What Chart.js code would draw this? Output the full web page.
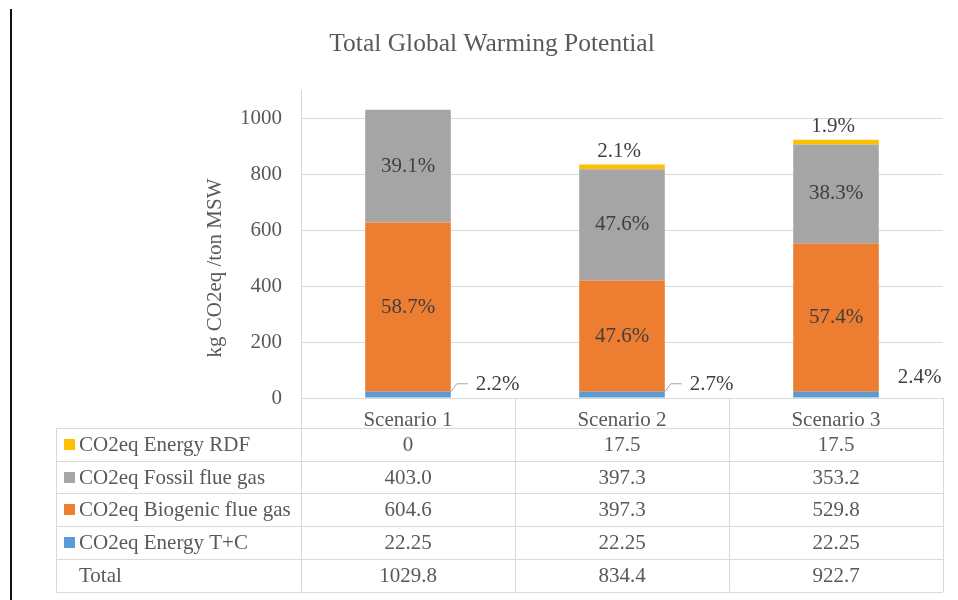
<!DOCTYPE html>
<html>
<head>
<meta charset="utf-8">
<script src="https://cdn.jsdelivr.net/npm/chart.js@4/dist/chart.umd.min.js"></script>
<style>
  html, body { margin: 0; padding: 0; background: #fff; }
  #wrap { position: relative; width: 958px; height: 600px; }
  #rule { position: absolute; left: 10px; top: 9px; width: 2px; height: 591px; background: #111; }
  canvas { position: absolute; left: 0; top: 0; }
</style>
</head>
<body>
<div id="wrap">
  <div id="rule"></div>
  <canvas id="gwp" width="958" height="600"></canvas>
</div>
<script>
// Scenarios and emissions (kg CO2eq per ton MSW)
const scenarios = ['Scenario 1', 'Scenario 2', 'Scenario 3'];
const energyTC = [22.25, 22.25, 22.25];
const biogenicFlueGas = [604.6, 397.3, 529.8];
const fossilFlueGas = [403.0, 397.3, 353.2];
const energyRDF = [0, 17.5, 17.5];
const totals = [1029.8, 834.4, 922.7];
const yTicks = [0, 200, 400, 600, 800, 1000];

const seriesNames = ['CO2eq Energy T+C', 'CO2eq Biogenic flue gas', 'CO2eq Fossil flue gas', 'CO2eq Energy RDF'];
const seriesColors = ['#5B9BD5', '#ED7D31', '#A5A5A5', '#FFC000'];
const tableDecimals = [2, 1, 1, 1];

const FONT = '"Liberation Serif", "Times New Roman", serif';
const TEXT = '#595959';
const LABEL = '#404040';
const LINE = '#D9D9D9';

const seriesValues = [energyTC, biogenicFlueGas, fossilFlueGas, energyRDF];

function fmt(v, dec) {
  return v === 0 ? '0' : v.toFixed(dec);
}

// Percentage labels on each stacked segment
const segmentLabels = {
  id: 'segmentLabels',
  afterDatasetsDraw(chart) {
    const ctx = chart.ctx;
    ctx.save();
    ctx.font = '21px ' + FONT;
    ctx.fillStyle = LABEL;
    ctx.textBaseline = 'middle';
    chart.data.datasets.forEach((ds, di) => {
      const meta = chart.getDatasetMeta(di);
      meta.data.forEach((bar, i) => {
        const v = ds.data[i];
        if (!v) return;
        const txt = (v / totals[i] * 100).toFixed(1) + '%';
        const p = bar.getProps(['x', 'y', 'base', 'width'], true);
        const right = p.x + p.width / 2;
        if (di === 1 || di === 2) {
          ctx.textAlign = 'center';
          ctx.fillText(txt, p.x, (p.y + p.base) / 2);
        } else if (di === 3) {
          ctx.textAlign = 'center';
          ctx.fillText(txt, p.x - 3, p.y - 13);
        } else if (i < 2) {
          // outside label with a leader line
          ctx.strokeStyle = '#A6A6A6';
          ctx.lineWidth = 1;
          ctx.beginPath();
          ctx.moveTo(right, p.y);
          ctx.lineTo(right + 6, p.y - 8);
          ctx.lineTo(right + 17, p.y - 8);
          ctx.stroke();
          ctx.textAlign = 'left';
          ctx.fillText(txt, right + 25, p.y - 7);
        } else {
          ctx.textAlign = 'left';
          ctx.fillText(txt, right + 19, p.y - 14);
        }
      });
    });
    ctx.restore();
  }
};

// Vertical axis title
const yTitle = {
  id: 'yTitle',
  afterDraw(chart) {
    const ctx = chart.ctx;
    ctx.save();
    ctx.translate(215, 268);
    ctx.rotate(-Math.PI / 2);
    ctx.font = '21px ' + FONT;
    ctx.fillStyle = TEXT;
    ctx.textAlign = 'center';
    ctx.textBaseline = 'middle';
    ctx.fillText('kg CO2eq /ton MSW', 0, 0);
    ctx.restore();
  }
};

// Data table under the category axis
const dataTable = {
  id: 'dataTable',
  afterDraw(chart) {
    const ctx = chart.ctx;
    const xs = chart.scales.x;
    const area = chart.chartArea;
    const step = (area.right - area.left) / scenarios.length;
    const top = area.bottom;
    const headerBottom = top + 30;
    const rowH = 32.7;
    const nRows = seriesNames.length + 1;
    const bottom = headerBottom + rowH * nRows;
    const tableLeft = 56.5;

    ctx.save();
    ctx.strokeStyle = LINE;
    ctx.lineWidth = 1;
    ctx.beginPath();
    // column separators
    for (let c = 0; c <= scenarios.length; c++) {
      const x = Math.round(area.left + c * step) + 0.5;
      ctx.moveTo(x, top);
      ctx.lineTo(x, bottom);
    }
    ctx.moveTo(tableLeft, headerBottom);
    ctx.lineTo(tableLeft, bottom);
    // row separators
    for (let r = 0; r <= nRows; r++) {
      const y = Math.round(headerBottom + r * rowH) + 0.5;
      ctx.moveTo(tableLeft, y);
      ctx.lineTo(area.right, y);
    }
    ctx.stroke();

    ctx.font = '21px ' + FONT;
    ctx.fillStyle = TEXT;
    ctx.textBaseline = 'middle';
    const rows = [3, 2, 1, 0];
    rows.forEach((si, r) => {
      const cy = headerBottom + rowH * (r + 0.5);
      ctx.fillStyle = seriesColors[si];
      ctx.fillRect(64, Math.round(cy - 5.5), 11, 11);
      ctx.fillStyle = TEXT;
      ctx.textAlign = 'left';
      ctx.fillText(seriesNames[si], 79, cy + 1);
      ctx.textAlign = 'center';
      seriesValues[si].forEach((v, i) => {
        ctx.fillText(fmt(v, tableDecimals[si]), xs.getPixelForValue(i), cy + 1);
      });
    });
    const cyT = headerBottom + rowH * (rows.length + 0.5);
    ctx.textAlign = 'left';
    ctx.fillText('Total', 79, cyT + 1);
    ctx.textAlign = 'center';
    totals.forEach((v, i) => ctx.fillText(v.toFixed(1), xs.getPixelForValue(i), cyT + 1));
    ctx.restore();
  }
};

const datasets = seriesNames.map((name, k) => ({
  label: name,
  data: seriesValues[k],
  backgroundColor: seriesColors[k],
  borderWidth: 0,
  barPercentage: 0.4,
  categoryPercentage: 1.0
}));

new Chart(document.getElementById('gwp'), {
  type: 'bar',
  data: { labels: scenarios, datasets },
  options: {
    responsive: false,
    animation: false,
    devicePixelRatio: 1,
    layout: { padding: { left: 41, right: 15, top: 0, bottom: 0 } },
    plugins: {
      legend: { display: false },
      tooltip: { enabled: false },
      title: {
        display: true,
        text: 'Total Global Warming Potential',
        color: TEXT,
        font: { family: FONT, size: 25.5, weight: 'normal' },
        padding: { top: 29, bottom: 30.4 }
      }
    },
    scales: {
      x: {
        stacked: true,
        grid: { display: false },
        border: { display: false },
        ticks: {
          color: TEXT,
          font: { family: FONT, size: 21 },
          padding: 2,
          maxRotation: 0
        },
        afterFit(scale) { scale.height = 202; }
      },
      y: {
        stacked: true,
        min: 0,
        max: 1100,
        grid: { color: LINE, drawTicks: false },
        border: { color: LINE },
        ticks: {
          color: TEXT,
          font: { family: FONT, size: 21 },
          padding: 19,
          callback: (v) => String(v)
        },
        afterBuildTicks(scale) { scale.ticks = yTicks.map(v => ({ value: v })); },
        afterFit(scale) { scale.width = 260; }
      }
    }
  },
  plugins: [segmentLabels, yTitle, dataTable]
});
</script>
</body>
</html>
